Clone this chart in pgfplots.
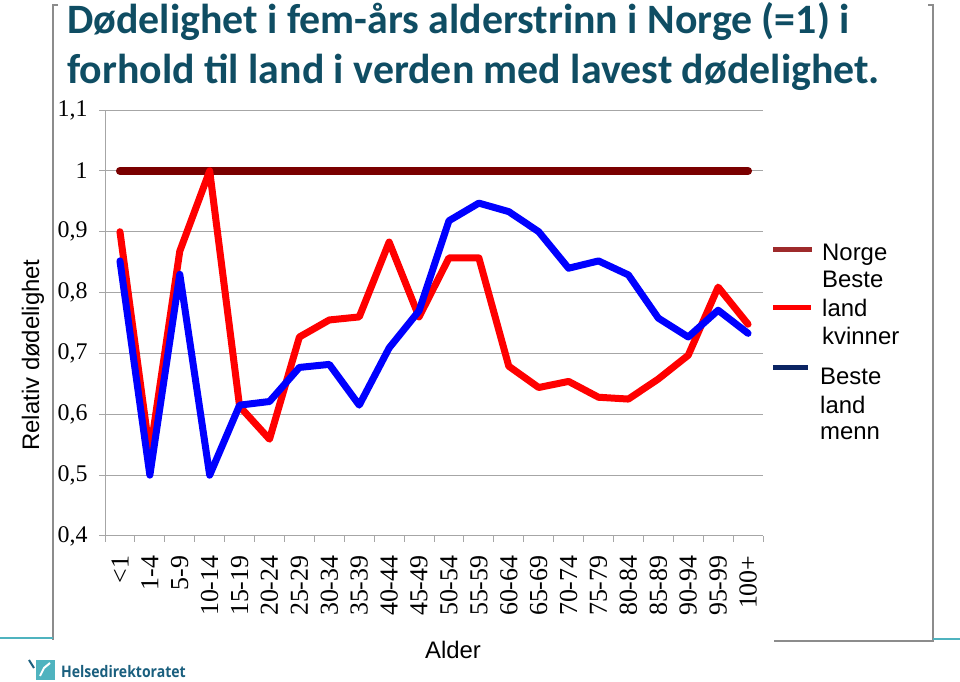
\documentclass[border=0pt]{standalone}
\usepackage{fontspec}
\setmainfont{Liberation Serif}
\newfontfamily\arial{Liberation Sans}
\newfontfamily\calibri{Carlito}
\newfontfamily\logofont{Open Sans}
\usepackage{pgfplots}
\pgfplotsset{compat=1.18}

\definecolor{titleteal}{HTML}{0F4D63}
\definecolor{norge}{HTML}{7A0000}
\definecolor{kvinner}{HTML}{FF0000}
\definecolor{menn}{HTML}{0000FF}
\definecolor{legnorge}{HTML}{9E2A2B}
\definecolor{legmenn}{HTML}{0B2463}
\definecolor{framegray}{HTML}{8C8C8C}
\definecolor{gridgray}{HTML}{A6A6A6}
\definecolor{hdteal}{HTML}{4FB3BF}
\definecolor{logoblue}{HTML}{1A5F7E}

\begin{document}
\begin{tikzpicture}
\useasboundingbox (0,0) rectangle (960bp,682bp);

% slide frame
\draw[framegray, line width=1.5bp] (58bp,677bp) -- (53bp,677bp) -- (53bp,42bp);
\draw[framegray, line width=1.5bp] (928bp,677bp) -- (933bp,677bp) -- (933bp,41bp) -- (774bp,41bp);
\draw[hdteal, line width=2bp] (0,44bp) -- (53bp,44bp);
\draw[hdteal, line width=2bp] (933bp,43bp) -- (960bp,43bp);

% title
\node[anchor=base west, text=titleteal, inner sep=0pt] at (67bp,648bp)
  {\calibri\bfseries\fontsize{42}{42}\selectfont Dødelighet i fem-års alderstrinn i Norge (=1) i};
\node[anchor=base west, text=titleteal, inner sep=0pt] at (67bp,598bp)
  {\calibri\bfseries\fontsize{42}{42}\selectfont forhold til land i verden med lavest dødelighet.};

\begin{axis}[
    at={(105bp,146bp)}, anchor=south west,
    width=658bp, height=426bp, scale only axis,
    xmin=-0.5, xmax=21.5,
    ymin=0.4, ymax=1.1,
    axis lines*=left,
    axis line style={gridgray, line width=1bp},
    xtick={0,...,21},
    xticklabels={<1,1-4,5-9,10-14,15-19,20-24,25-29,30-34,35-39,40-44,45-49,
                 50-54,55-59,60-64,65-69,70-74,75-79,80-84,85-89,90-94,95-99,100+},
    major x tick style={draw=none},
    minor xtick={-0.5,0.5,...,21.5},
    minor x tick style={gridgray, line width=1bp},
    minor tick length=6bp,
    ytick={0.4,0.5,...,1.1},
    yticklabels={{0,4},{0,5},{0,6},{0,7},{0,8},{0,9},{1},{1,1}},
    major y tick style={gridgray, line width=1bp},
    major tick length=6bp,
    tick align=outside,
    ymajorgrids,
    grid style={gridgray, line width=1bp},
    xticklabel style={rotate=90, anchor=east, font=\fontsize{26}{26}\selectfont},
    xticklabel shift=10bp,
    yticklabel style={anchor=east, font=\fontsize{24}{24}\selectfont, xshift=-8bp},
    clip=false,
]
\addplot[norge, line width=8bp, line cap=round, line join=round] coordinates {
(0,1)(1,1)(2,1)(3,1)(4,1)(5,1)(6,1)(7,1)(8,1)(9,1)(10,1)
(11,1)(12,1)(13,1)(14,1)(15,1)(16,1)(17,1)(18,1)(19,1)(20,1)(21,1)
};
\addplot[kvinner, line width=7bp, line cap=round, line join=round] coordinates {
(0,0.900)(1,0.535)(2,0.868)(3,1.000)(4,0.613)(5,0.559)(6,0.727)(7,0.755)
(8,0.760)(9,0.883)(10,0.760)(11,0.857)(12,0.857)(13,0.679)(14,0.644)
(15,0.654)(16,0.628)(17,0.625)(18,0.658)(19,0.697)(20,0.809)(21,0.748)
};
\addplot[menn, line width=7bp, line cap=round, line join=round] coordinates {
(0,0.852)(1,0.500)(2,0.830)(3,0.500)(4,0.615)(5,0.621)(6,0.677)(7,0.682)
(8,0.615)(9,0.709)(10,0.770)(11,0.918)(12,0.947)(13,0.933)(14,0.900)
(15,0.840)(16,0.852)(17,0.829)(18,0.758)(19,0.727)(20,0.771)(21,0.733)
};
\end{axis}

% axis titles
\node[rotate=90, inner sep=0pt] at (33bp,327bp) {\arial\fontsize{24}{24}\selectfont Relativ dødelighet};
\node[inner sep=0pt] at (453bp,32bp) {\arial\fontsize{24}{24}\selectfont Alder};

% legend
\draw[legnorge, line width=5bp] (773bp,432bp) -- (812bp,432bp);
\draw[kvinner, line width=5bp] (773bp,374bp) -- (811bp,374bp);
\draw[legmenn, line width=5bp] (773bp,314bp) -- (808bp,314bp);
\begin{scope}[every node/.style={anchor=base west, inner sep=0pt, font=\arial\fontsize{24}{24}\selectfont}]
\node at (822bp,421bp) {Norge};
\node at (822bp,394bp) {Beste};
\node at (822bp,365bp) {land};
\node at (822bp,337bp) {kvinner};
\node at (820bp,297bp) {Beste};
\node at (820bp,268bp) {land};
\node at (820bp,242bp) {menn};
\end{scope}

% logo
\fill[hdteal] (36bp,2bp) rectangle (55bp,22bp);
\draw[white, line width=2bp] (40bp,6bp) -- (44bp,14bp) -- (50bp,19bp);
\draw[logoblue, line width=2bp] (29bp,22bp) -- (34bp,14bp);
\node[anchor=base west, inner sep=0pt, text=logoblue, xscale=0.88] at (61bp,5bp)
  {\logofont\bfseries\fontsize{16}{16}\selectfont Helsedirektoratet};
\end{tikzpicture}
\end{document}
